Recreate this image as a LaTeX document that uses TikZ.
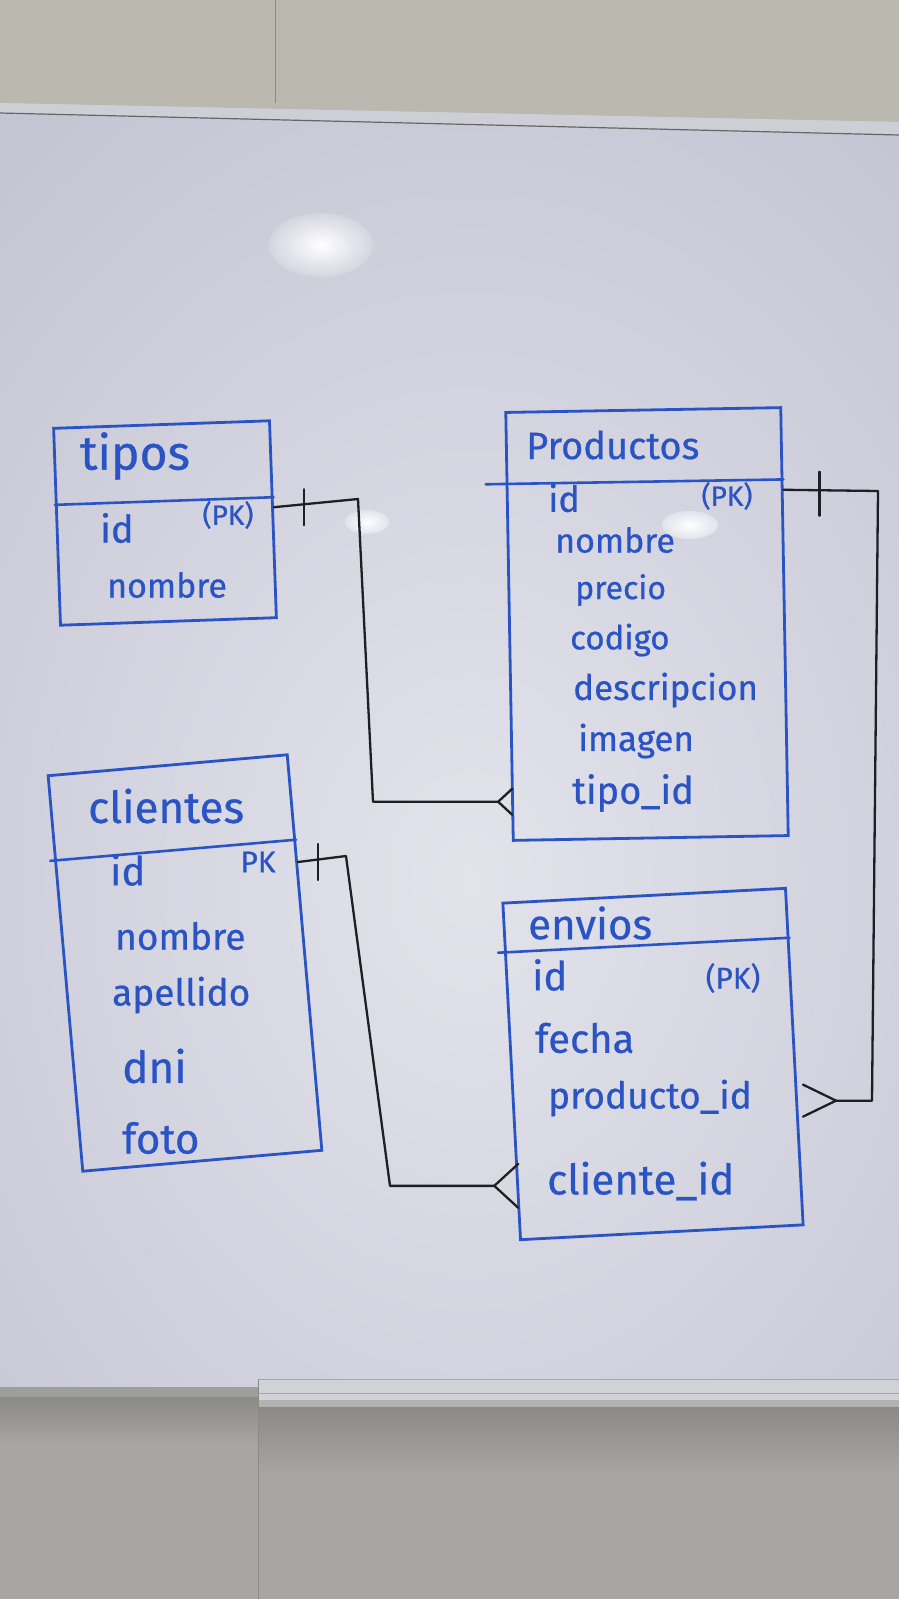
\documentclass[tikz,border=0pt]{standalone}
\usepackage{fontspec}
\setmainfont{Fira Sans}[FakeBold=0.6]
\usetikzlibrary{calc}
\newcommand\fsz[1]{\fontsize{#1}{#1}\selectfont}
\definecolor{marker}{HTML}{2A53C4}
\definecolor{ink}{HTML}{1E1E24}
\definecolor{boardlight}{HTML}{E2E3EB}
\definecolor{boarddark}{HTML}{B3B4C5}
\definecolor{wall}{HTML}{BAB8AF}
\definecolor{wallb}{HTML}{A8A6A2}
\definecolor{shadowc}{HTML}{8C8A86}
\definecolor{framec}{HTML}{CDCED6}
\definecolor{trayc}{HTML}{D0D2D7}
\begin{document}
\begin{tikzpicture}[x=1pt,y=-1pt,
  tbl/.style={draw=marker, line width=2.8pt, rectangle, inner sep=0pt},
  hdr/.style={draw=marker, line width=2.6pt, line cap=round},
  fld/.style={text=marker, inner sep=0pt, anchor=west},
  pk/.style={text=marker, inner sep=0pt, anchor=center},
  rel/.style={draw=ink, line width=2.3pt, line cap=round, line join=round}]
\useasboundingbox (0,0) rectangle (899,1599);
% ---------- background: wall, board, tray ----------
\fill[wall] (0,0) rectangle (899,1599);
\draw[shadowc, line width=1pt] (275,0) -- (275,103);
\begin{scope}
  \clip (0,103) -- (899,122) -- (899,1380) -- (258,1380) -- (258,1387) -- (0,1387) -- cycle;
  \fill[boarddark] (0,100) rectangle (899,1390);
  \shade[inner color=boardlight, outer color=boarddark] (470,880) ellipse [x radius=1150, y radius=1500];
  \shade[inner color=white, outer color=boardlight!70!boarddark] (321,245) ellipse [x radius=52, y radius=32];
  \shade[inner color=white, outer color=boardlight] (367,522) ellipse [x radius=22, y radius=12];
  \shade[inner color=white, outer color=boardlight] (690,525) ellipse [x radius=28, y radius=14];
\end{scope}
\fill[framec] (0,103) -- (899,122) -- (899,135) -- (0,113) -- cycle;
\draw[black!60, line width=1.2pt] (0,113) -- (899,135);
\fill[black!38] (0,1387) rectangle (258,1397);
\fill[wallb] (0,1397) rectangle (899,1599);
\shade[top color=shadowc, bottom color=wallb] (0,1397) rectangle (258,1445);
\shade[top color=shadowc, bottom color=wallb] (258,1407) rectangle (899,1475);
\fill[trayc] (258,1379) rectangle (899,1407);
\fill[black!30] (258,1400) rectangle (899,1407);
\draw[black!35, line width=0.8pt] (258,1379) -- (899,1379) (258,1393) -- (899,1393);
\draw[shadowc, line width=1pt] (258,1379) -- (258,1599);
% ---------- tables ----------
\node[tbl, minimum width=216pt, minimum height=197pt, rotate=2] (tipos) at (165,523) {};
\node[tbl, minimum width=275pt, minimum height=428pt, rotate=1] (prod) at (647,624) {};
\node[tbl, minimum width=240pt, minimum height=397pt, rotate=5] (clientes) at (185,963) {};
\node[tbl, minimum width=283pt, minimum height=337pt, rotate=3] (envios) at (653,1064) {};
% header lines
\draw[hdr] ($(tipos.north west)!0.39!(tipos.south west)$) -- ($(tipos.north east)!0.39!(tipos.south east)$);
\draw[hdr] ($($(prod.north west)!0.17!(prod.south west)$)+(-20,0)$) -- ($(prod.north east)!0.17!(prod.south east)$);
\draw[hdr] ($($(clientes.north west)!0.217!(clientes.south west)$)+(-4,0)$) -- ($(clientes.north east)!0.217!(clientes.south east)$);
\draw[hdr] ($($(envios.north west)!0.15!(envios.south west)$)+(-6,0)$) -- ($(envios.north east)!0.15!(envios.south east)$);
% ---------- texts ----------
\node[fld, font=\fsz{48}] (tT) at (80,456) {tipos};
\node[fld, font=\fsz{38}] (tId) at (100,528) {id};
\node[pk,  font=\fsz{28}] (tPK) at (228,515) {(PK)};
\node[fld, font=\fsz{34}] (tNom) at (107,585) {nombre};

\node[fld, font=\fsz{38}] (pT) at (526,445) {Productos};
\node[fld, font=\fsz{36}] (pId) at (548,498) {id};
\node[pk,  font=\fsz{28}] (pPK) at (727,496) {(PK)};
\node[fld, font=\fsz{34}] (pNom) at (555,540) {nombre};
\node[fld, font=\fsz{32}] (pPre) at (575,590) {precio};
\node[fld, font=\fsz{33}] (pCod) at (570,640) {codigo};
\node[fld, font=\fsz{35}] (pDes) at (573,690) {descripcion};
\node[fld, font=\fsz{35}] (pImg) at (578,741) {imagen};
\node[fld, font=\fsz{38}] (pTip) at (572,793) {tipo\_id};

\node[fld, font=\fsz{44}] (cT) at (88,806) {clientes};
\node[fld, font=\fsz{40}] (cId) at (110,870) {id};
\node[pk,  font=\fsz{30}] (cPK) at (258,862) {PK};
\node[fld, font=\fsz{37}] (cNom) at (115,936) {nombre};
\node[fld, font=\fsz{37}] (cApe) at (112,995) {apellido};
\node[fld, font=\fsz{44}] (cDni) at (122,1066) {dni};
\node[fld, font=\fsz{42}] (cFot) at (122,1138) {foto};

\node[fld, font=\fsz{42}] (eT) at (528,923) {envios};
\node[fld, font=\fsz{40}] (eId) at (532,975) {id};
\node[pk,  font=\fsz{30}] (ePK) at (733,978) {(PK)};
\node[fld, font=\fsz{40}] (eFec) at (535,1038) {fecha};
\node[fld, font=\fsz{37}] (ePro) at (548,1098) {producto\_id};
\node[fld, font=\fsz{42}] (eCli) at (547,1181) {cliente\_id};
% ---------- relations ----------
\coordinate (c1a) at (358,499);
\coordinate (c1b) at (373,800);
\coordinate (c2a) at (878,491);
\coordinate (c2b) at (872,1100);
\coordinate (c3a) at (346,856);
\coordinate (c3b) at (390,1185);
% tipos 1 -- N productos
\coordinate (r1s) at ($(tipos.north east)!0.44!(tipos.south east)$);
\coordinate (r1e) at ($(prod.north west)!0.907!(prod.south west)$);
\coordinate (r1x) at ($(r1e)+(-13,0)$);
\draw[rel] (r1s) -- (c1a) -- (c1b |- r1x) -- (r1x);
\draw[rel] ($(r1x)+(14,-13)$) -- (r1x) -- ($(r1x)+(14,13)$);
\draw[rel] ($(r1s)+(30,-18)$) -- ++(0,36);
% productos 1 -- N envios
\coordinate (r2s) at ($(prod.north east)!0.194!(prod.south east)$);
\coordinate (r2e) at ($(envios.north east)!0.63!(envios.south east)$);
\coordinate (r2x) at ($(r2e)+(38,0)$);
\draw[rel] (r2s) -- (c2a) -- (c2b |- r2x) -- (r2x);
\draw[rel] ($(r2x)+(-33,-16)$) -- (r2x) -- ($(r2x)+(-33,16)$);
\draw[rel] ($(r2s)+(36,-18)$) -- ++(0,44);
% clientes 1 -- N envios
\coordinate (r3s) at ($(clientes.north east)!0.273!(clientes.south east)$);
\coordinate (r3e) at ($(envios.north west)!0.837!(envios.south west)$);
\coordinate (r3x) at ($(r3e)+(-22,0)$);
\draw[rel] (r3s) -- (c3a) -- (c3b |- r3x) -- (r3x);
\draw[rel] ($(r3x)+(24,-22)$) -- (r3x) -- ($(r3x)+(24,22)$);
\draw[rel] ($(r3s)+(20,-18)$) -- ++(0,36);
\end{tikzpicture}
\end{document}
